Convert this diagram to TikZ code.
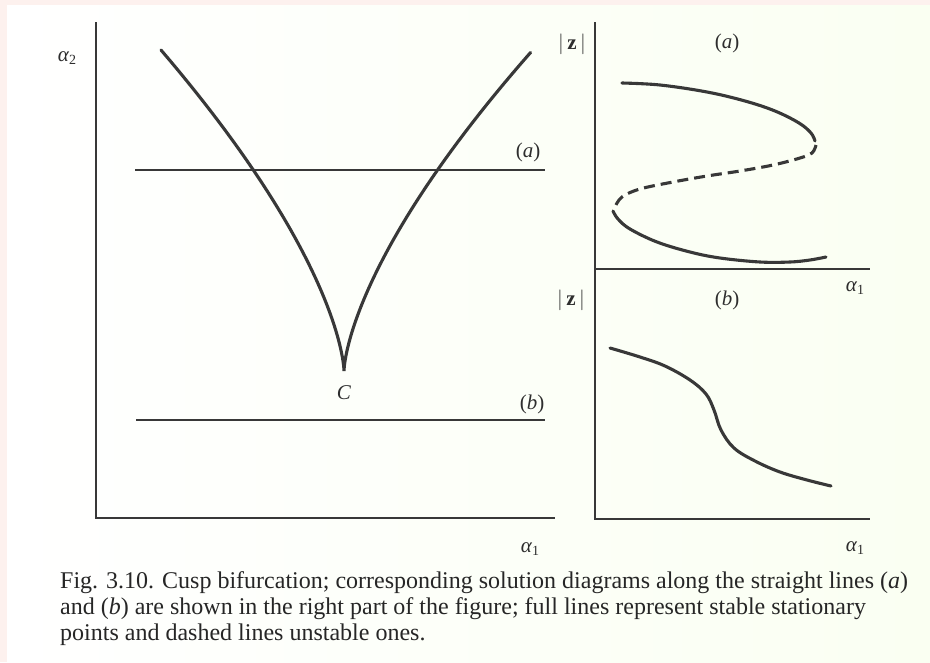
\documentclass[tikz,border=0pt]{standalone}
\usepackage{fontspec}
\setmainfont{Liberation Serif}
\begin{document}
\begin{tikzpicture}[x=1pt,y=-1pt,
  ink/.style={draw=black!78},
  axisline/.style={ink, line width=1.7pt},
  cutline/.style={ink, line width=1.4pt},
  curve/.style={ink, line width=3.1pt, line cap=round},
  dcurve/.style={ink, line width=3.1pt, dash pattern=on 11pt off 6pt},
  lbl/.style={text=black!82, font=\fontsize{21}{23}\selectfont, inner sep=0pt},
  captext/.style={text=black!85, font=\fontsize{24}{27}\selectfont, inner sep=0pt, anchor=west}
]
% background
\fill[fill={rgb,255:red,253;green,241;blue,238}] (0,0) rectangle (930,662);
\shade[left color=white, right color={rgb,255:red,250;green,255;blue,242}] (7,5) rectangle (930,662);
\useasboundingbox (0,0) rectangle (930,662);

% ---------- left panel ----------
\coordinate (LO) at (96,518);
\coordinate (LT) at (96,22);
\coordinate (LR) at (555,518);
\draw[axisline] (LT) -- (LO) -- (LR);
\node[lbl] (a2) at (67,58) {\itshape α\raisebox{-0.35ex}{\fontsize{14}{14}\selectfont\upshape 2}};
\node[lbl] (a1L) at (530,549) {\itshape α\raisebox{-0.35ex}{\fontsize{14}{14}\selectfont\upshape 1}};

\coordinate (aL) at (135,170);
\coordinate (aR) at (545,170);
\draw[cutline] (aL) -- (aR);
\node[lbl] (la) at (528,152) {(\textit{a})};
\coordinate (bL) at (136,420);
\coordinate (bR) at (545,420);
\draw[cutline] (bL) -- (bR);
\node[lbl] (lb) at (532,404) {(\textit{b})};

% cusp
\draw[curve] plot[domain=1:0, samples=60, variable=\t] ({344-183*\t^3},{371-321*\t^2})
            -- plot[domain=0:1, samples=60, variable=\t] ({344+187*\t^3},{371-319*\t^2});
\node[lbl] (C) at (344,393) {\textit{C}};

% ---------- right panels ----------
\coordinate (RT) at (595,22);
\coordinate (RB) at (595,519);
\coordinate (RA) at (870,269);
\coordinate (RA0) at (595,269);
\coordinate (RBR) at (870,519);
\draw[axisline] (RT) -- (RB) -- (RBR);
\draw[axisline] (RA0) -- (RA);

\node[lbl] (z1) at (572,44) {$|\,\mathbf{z}\,|$};
\node[lbl] (pa) at (727,43) {(\textit{a})};
\node[lbl] (a1a) at (855,288) {\itshape α\raisebox{-0.35ex}{\fontsize{14}{14}\selectfont\upshape 1}};
\node[lbl] (z2) at (571,300) {$|\,\mathbf{z}\,|$};
\node[lbl] (pb) at (727,300) {(\textit{b})};
\node[lbl] (a1b) at (855,548) {\itshape α\raisebox{-0.35ex}{\fontsize{14}{14}\selectfont\upshape 1}};

% S-curve (a)
\draw[curve] plot[smooth, tension=0.6] coordinates {(622,83) (660,85) (707,92) (745,101) (775,111) (799,123) (811,133) (815,141)};
\draw[dcurve] plot[smooth, tension=0.6] coordinates {(816,145) (812,153) (800,158) (773,165) (740,171) (707,176) (673,182) (640,189) (622,197) (615,207)};
\draw[curve] plot[smooth, tension=0.6] coordinates {(613,211) (618,219) (630,229) (657,242) (690,252) (720,258) (760,262) (790,262) (810,260) (826,257)};

% curve (b)
\draw[curve] plot[smooth, tension=0.6] coordinates {(610,348) (640,357) (665,366) (690,380) (706,394) (714,410) (721,430) (734,448) (755,461) (780,472) (807,480) (831,486)};

% ---------- caption ----------
\node[captext] (c1) at (60,583) {Fig. 3.10. Cusp bifurcation; corresponding solution diagrams along the straight lines (\textit{a})};
\node[captext] (c2) at (60,609) {and (\textit{b}) are shown in the right part of the figure; full lines represent stable stationary};
\node[captext] (c3) at (60,635) {points and dashed lines unstable ones.};
\end{tikzpicture}
\end{document}
